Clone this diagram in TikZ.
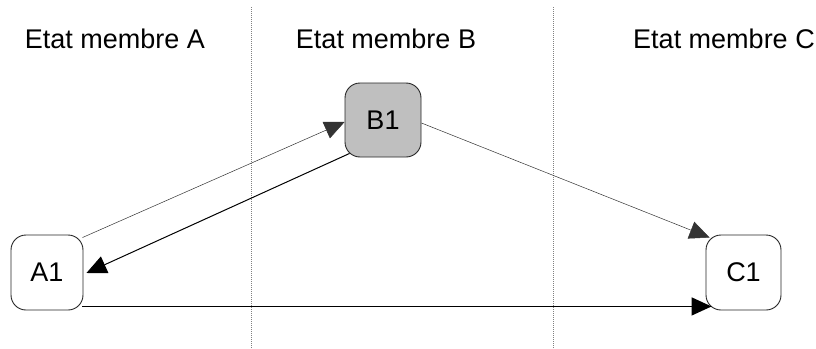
\documentclass[tikz,border=0pt]{standalone}
\usepackage{fontspec}
\setmainfont{Liberation Sans}
\usetikzlibrary{arrows.meta}
\begin{document}
\begin{tikzpicture}[x=1pt,y=-1pt,
  box/.style={draw=black!85,line width=0.9pt,rounded corners=15pt,inner sep=0pt,
    font=\fontsize{27}{32}\selectfont},
  lbl/.style={anchor=base,inner sep=0pt,font=\fontsize{27}{32}\selectfont},
  divider/.style={draw=black!50,line width=1pt,dash pattern=on 1pt off 1pt},
  tip/.style={-{Triangle[length=20pt,width=18pt]}},
  thinarrow/.style={tip,line width=0.5pt,draw=black!80},
  midarrow/.style={tip,line width=1pt},
  thickarrow/.style={tip,line width=1.5pt}]
\useasboundingbox (0,0) rectangle (816,348);
\coordinate (d1t) at (251,7);
\coordinate (d1b) at (251,348);
\coordinate (d2t) at (553,7);
\coordinate (d2b) at (553,348);
\draw[divider] (d1t) -- (d1b);
\draw[divider] (d2t) -- (d2b);
\node[lbl] (la) at (115,48) {Etat membre A};
\node[lbl] (lb) at (386,48) {Etat membre B};
\node[lbl] (lc) at (724,48) {Etat membre C};
\node[box,minimum width=72pt,minimum height=75pt] (a1) at (47,272.5) {A1};
\node[box,fill=black!25,minimum width=76pt,minimum height=74pt] (b1) at (383,120) {B1};
\node[box,minimum width=75pt,minimum height=75pt] (c1) at (743.5,272.5) {C1};
\draw[thinarrow] ([shift={(-1,3)}]a1.north east) -- ([shift={(0,2)}]b1.west);
\draw[midarrow] ([shift={(5,-4)}]b1.south west) -- ([shift={(3,0.5)}]a1.east);
\draw[thinarrow] ([shift={(0,3)}]b1.east) -- ([shift={(4,3)}]c1.north west);
\draw[thickarrow] ([shift={(-1,-4)}]a1.south east) -- ([shift={(6,-4)}]c1.south west);
\end{tikzpicture}
\end{document}
